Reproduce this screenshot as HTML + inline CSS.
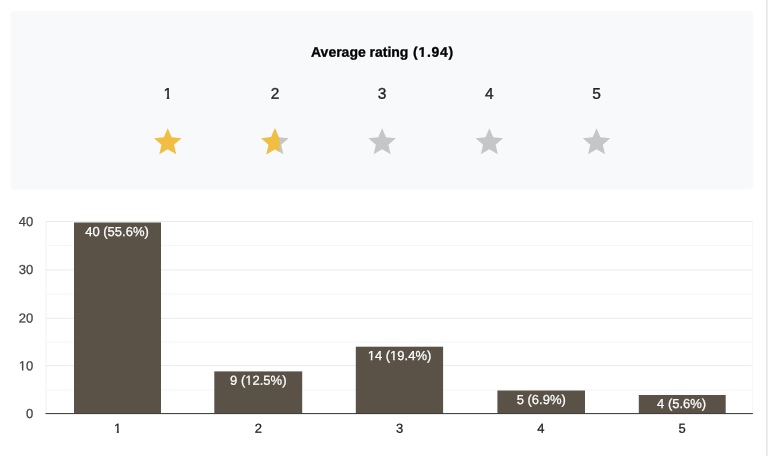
<!DOCTYPE html>
<html>
<head>
<meta charset="utf-8">
<title>Average rating</title>
<style>
html,body{margin:0;padding:0;background:#fff;}
body{width:768px;height:456px;position:relative;overflow:hidden;font-family:"Liberation Sans",Arial,sans-serif;}
.strip{position:absolute;left:766px;top:0;width:1px;height:456px;background:#e8e9eb;border-right:1px solid #eeeeec;}
svg{position:absolute;left:0;top:0;}
svg{font-family:"Liberation Sans",Arial,sans-serif;font-size:13px;}
</style>
</head>
<body>
<div class="strip"></div>


<svg width="768" height="456" viewBox="0 0 768 456">
  <defs>
    <path id="st" d="M12 17.27L18.18 21l-1.64-7.03L22 9.24l-7.19-.61L12 2 9.19 8.63 2 9.24l5.46 4.73L5.82 21z"/>
    <clipPath id="half"><rect x="0" y="0" width="15.3" height="24"/></clipPath>
    <clipPath id="nofoot"><path d="M-6,-13H6V-1.8H1.3V1H-0.85V-1.8H-6Z"/></clipPath>
    <clipPath id="nf10"><path clip-rule="evenodd" d="M-40,-14H40V4H-40ZM-14.4,-1.8H-11.35V1.2H-14.4ZM-9.9,-1.8H-7.3V1.2H-9.9Z"/></clipPath>
    <clipPath id="nf9"><path clip-rule="evenodd" d="M-40,-14H40V4H-40ZM-12.8,-1.8H-9.9V1.2H-12.8ZM-8.45,-1.8H-5.9V1.2H-8.45Z"/></clipPath>
    <clipPath id="nf14"><path clip-rule="evenodd" d="M-40,-14H40V4H-40ZM-31.8,-1.8H-28.7V1.2H-31.8ZM-27.2,-1.8H-24.4V1.2H-27.2ZM-9.2,-1.8H-6.3V1.2H-9.2ZM-4.8,-1.8H-2.2V1.2H-4.8Z"/></clipPath>
    <clipPath id="nfb"><path clip-rule="evenodd" d="M-2,-15H60V5H-2ZM5.6,-2.3H8.45V1.2H5.6ZM10.75,-2.3H13.7V1.2H10.75Z"/></clipPath>
  </defs>
  <rect x="10.5" y="11" width="742.7" height="178.6" rx="4" ry="4" fill="#f8f9fa"/>
  <g transform="translate(151.25,125.45) scale(1.375)"><use href="#st" fill="#f1be42"/></g>
  <g transform="translate(258.45,125.45) scale(1.375)"><use href="#st" fill="#c6c6c6"/><use href="#st" fill="#f1be42" clip-path="url(#half)"/></g>
  <g transform="translate(365.65,125.45) scale(1.375)"><use href="#st" fill="#c6c6c6"/></g>
  <g transform="translate(472.85,125.45) scale(1.375)"><use href="#st" fill="#c6c6c6"/></g>
  <g transform="translate(580.05,125.45) scale(1.375)"><use href="#st" fill="#c6c6c6"/></g>

  <g fill="#000" stroke="#000" stroke-width="0.3" style="font-size:14px;font-weight:bold">
    <text transform="translate(311,56.7) rotate(0.05)">Average</text>
    <text transform="translate(369.5,56.7) rotate(0.05)">rating</text>
    <text transform="translate(413,56.7) rotate(0.05)" style="letter-spacing:0.72px" clip-path="url(#nfb)">(1.94)</text>
  </g>
  <g fill="#222" stroke="#222" stroke-width="0.3" text-anchor="middle">
    <text transform="translate(167.75,98.85) rotate(0.05) scale(1.107)" style="font-size:14px" clip-path="url(#nofoot)">1</text>
    <text transform="translate(274.95,98.85) rotate(0.05) scale(1.107)" style="font-size:14px">2</text>
    <text transform="translate(382.15,98.85) rotate(0.05) scale(1.107)" style="font-size:14px">3</text>
    <text transform="translate(489.35,98.85) rotate(0.05) scale(1.107)" style="font-size:14px">4</text>
    <text transform="translate(596.55,98.85) rotate(0.05) scale(1.107)" style="font-size:14px">5</text>
  </g>
  <!-- chart -->
  <g fill="#f5f5f5">
    <rect x="45.5" y="245.1" width="707.4" height="1"/>
    <rect x="45.5" y="293.5" width="707.4" height="1"/>
    <rect x="45.5" y="341.5" width="707.4" height="1"/>
    <rect x="45.5" y="389.5" width="707.4" height="1"/>
  </g>
  <g fill="#ebebeb">
    <rect x="45.5" y="221" width="707.4" height="1" fill="#e9ebef"/>
    <rect x="45.5" y="269.4" width="707.4" height="1"/>
    <rect x="45.5" y="317.8" width="707.4" height="1"/>
    <rect x="45.5" y="365.1" width="707.4" height="1"/>
    <rect x="45.5" y="221" width="1" height="192" fill="#f1f2f5"/>
    <rect x="751.9" y="221" width="1" height="192" fill="#f6f7f9"/>
  </g>
  <g fill="#5a5246">
    <rect x="74" y="222.5" width="87" height="191"/>
    <rect x="214.3" y="371.4" width="87.9" height="42"/>
    <rect x="355.8" y="346.7" width="87.3" height="67"/>
    <rect x="497.4" y="390.5" width="87.6" height="23"/>
    <rect x="638.8" y="395" width="86.9" height="18.5"/>
  </g>
  <rect x="45.5" y="413.1" width="707.4" height="1" fill="#333"/>

  <g fill="#444" stroke="#444" stroke-width="0.25" text-anchor="end">
    <text transform="translate(33.3,226.1) rotate(0.05)">40</text>
    <text transform="translate(33.3,274.1) rotate(0.05)">30</text>
    <text transform="translate(33.3,322.5) rotate(0.05)">20</text>
    <text transform="translate(33.3,370.2) rotate(0.05)" clip-path="url(#nf10)">10</text>
    <text transform="translate(33.3,418) rotate(0.05)">0</text>
  </g>
  <g fill="#222" stroke="#222" stroke-width="0.25" text-anchor="middle">
    <text transform="translate(117.6,432.7) rotate(0.05)" clip-path="url(#nofoot)">1</text>
    <text transform="translate(258.3,432.7) rotate(0.05)">2</text>
    <text transform="translate(399.5,432.7) rotate(0.05)">3</text>
    <text transform="translate(540.8,432.7) rotate(0.05)">4</text>
    <text transform="translate(682,432.7) rotate(0.05)">5</text>
  </g>
  <g fill="#fff" stroke="#fff" stroke-width="0.25" text-anchor="middle">
    <text transform="translate(117,236) rotate(0.05)">40 (55.6%)</text>
    <text transform="translate(258.3,384.7) rotate(0.05)" clip-path="url(#nf9)">9 (12.5%)</text>
    <text transform="translate(399.5,360.1) rotate(0.05)" clip-path="url(#nf14)">14 (19.4%)</text>
    <text transform="translate(541.2,403.9) rotate(0.05)">5 (6.9%)</text>
    <text transform="translate(681.6,407.9) rotate(0.05)">4 (5.6%)</text>
  </g>
</svg>
</body>
</html>
